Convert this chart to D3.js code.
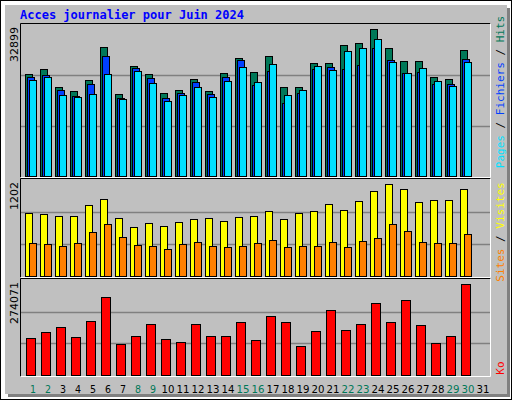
<!DOCTYPE html>
<html><head><meta charset="utf-8">
<script src="https://cdnjs.cloudflare.com/ajax/libs/d3/7.8.5/d3.min.js"></script>
<style>body{margin:0;background:#fff}</style></head>
<body><svg id="c" width="512" height="400"></svg>
<script>
const days = d3.range(1,32);
const weekend = [1,2,8,9,15,16,22,23,29,30];
const hits = [22160,23250,19328,18456,20853,28044,17802,23904,22160,18020,18674,21071,18456,22378,25647,22596,26083,19328,19328,24557,24557,28480,28915,31966,27826,24993,24993,21507,21071,27390,0];
const files = [21507,21943,18674,17497,19981,26083,16931,23468,21289,16931,18020,20418,17802,21507,25211,19829,22814,15841,18020,23250,23686,23250,24121,27826,25211,22378,22596,19981,19981,25429,0];
const pages = [20853,21507,17585,17149,17802,22160,16713,22814,20199,16277,17585,19328,17149,20635,23686,20418,24339,17585,18674,23904,23032,27172,27826,29787,24775,22378,23468,20635,19546,24775,0];
const visits = [789,776,751,751,889,964,726,613,664,626,676,714,726,689,739,751,814,714,789,814,901,826,939,1064,1152,1089,926,951,951,1089,0];
const sites = [413,401,376,413,551,651,488,388,376,338,401,426,376,363,376,413,451,363,376,376,426,363,438,476,651,563,426,413,413,526,0];
const ko = [106745,124055,138480,109630,155790,225030,89435,112515,147135,103860,95205,147135,112515,112515,152905,100975,170215,152905,83665,126940,187525,129825,147135,207720,152905,216375,144250,92320,112515,262535,0];
const maxTop = 32899, maxMid = 1202, maxKo = 274071;

const svg = d3.select("#c");
svg.append("rect").attr("x",0.5).attr("y",0.5).attr("width",511).attr("height",399).attr("fill","#fff").attr("stroke","#000");
svg.append("rect").attr("x",8).attr("y",8).attr("width",502).attr("height",389).attr("fill","#808080");
svg.append("rect").attr("x",5).attr("y",5).attr("width",502).attr("height",389).attr("fill","#c0c0c0");
svg.append("text").attr("x",20).attr("y",19).attr("fill","#0000ff").attr("font-family","DejaVu Sans Mono").attr("font-weight","bold").attr("font-size",12).text("Acces journalier pour Juin 2024");

const x = d3.scaleLinear().domain([1,31]).range([25,475]);
const panels = [
 {top:25,bot:176,max:maxTop,label:"32899"},
 {top:180,bot:276,max:maxMid,label:"1202"},
 {top:280,bot:375,max:maxKo,label:"274071"}];
panels.forEach(p=>{
  p.y = d3.scaleLinear().domain([0,p.max]).range([p.bot,p.top]);
  svg.append("path").attr("d",`M20.5,${p.bot+1.5}V${p.top-1.5}H490.5`).attr("stroke","#000").attr("fill","none");
  svg.append("path").attr("d",`M20.5,${p.bot+1.5}H490.5V${p.top-1.5}`).attr("stroke","#fff").attr("fill","none");
  [1/3,2/3].forEach(f=>{
    const yy=Math.round(p.y(p.max*f))+0.5;
    svg.append("line").attr("x1",21).attr("x2",490).attr("y1",yy).attr("y2",yy).attr("stroke","#808080").attr("stroke-width",1.5);
  });
  svg.append("text").attr("transform",`translate(18,${p.top+2}) rotate(-90)`).attr("text-anchor","end").attr("font-family","DejaVu Sans").attr("font-size",11).text(p.label);
});
function bars(data,p,dx,w,color){
  svg.append("g").selectAll("rect").data(data.map((v,i)=>({v,d:days[i]})).filter(o=>o.v>0)).join("rect")
   .attr("x",o=>x(o.d)+dx+0.5).attr("width",w)
   .attr("y",o=>Math.round(p.y(o.v))+0.5).attr("height",o=>p.bot-Math.round(p.y(o.v)))
   .attr("fill",color).attr("stroke","#000");
}
bars(hits,panels[0],0,7,"#007858");
bars(files,panels[0],2,7,"#0040ff");
bars(pages,panels[0],4,7,"#00e0ff");
bars(visits,panels[1],0,7,"#ffff00");
bars(sites,panels[1],4,7,"#ff8000");
bars(ko,panels[2],1,9,"#ff0000");

svg.append("g").selectAll("text").data(days).join("text")
 .attr("x",d=>x(d)+8).attr("y",393).attr("text-anchor","middle")
 .attr("font-family","DejaVu Sans Condensed, DejaVu Sans").attr("font-stretch","condensed").attr("font-size",10.5)
 .attr("textLength",d=>d>=10?13:null).attr("lengthAdjust","spacingAndGlyphs")
 .attr("fill",d=>weekend.includes(d)?"#007858":"#000").text(d=>d);

function rlabel(parts,cy){
  const t=svg.append("text").attr("transform",`translate(504,${cy}) rotate(-90)`).attr("text-anchor","middle")
   .attr("font-family","DejaVu Sans Mono").attr("font-size",11);
  parts.forEach(([s,c])=>t.append("tspan").attr("fill",c).text(s));
}
rlabel([["Pages","#00e0ff"],[" / ","#000"],["Fichiers","#0040ff"],[" / ","#000"],["Hits","#007858"]],92);
rlabel([["Sites","#ff8000"],[" / ","#000"],["Visites","#ffff00"]],232);
rlabel([["Ko","#ff0000"]],368);
</script></body></html>
